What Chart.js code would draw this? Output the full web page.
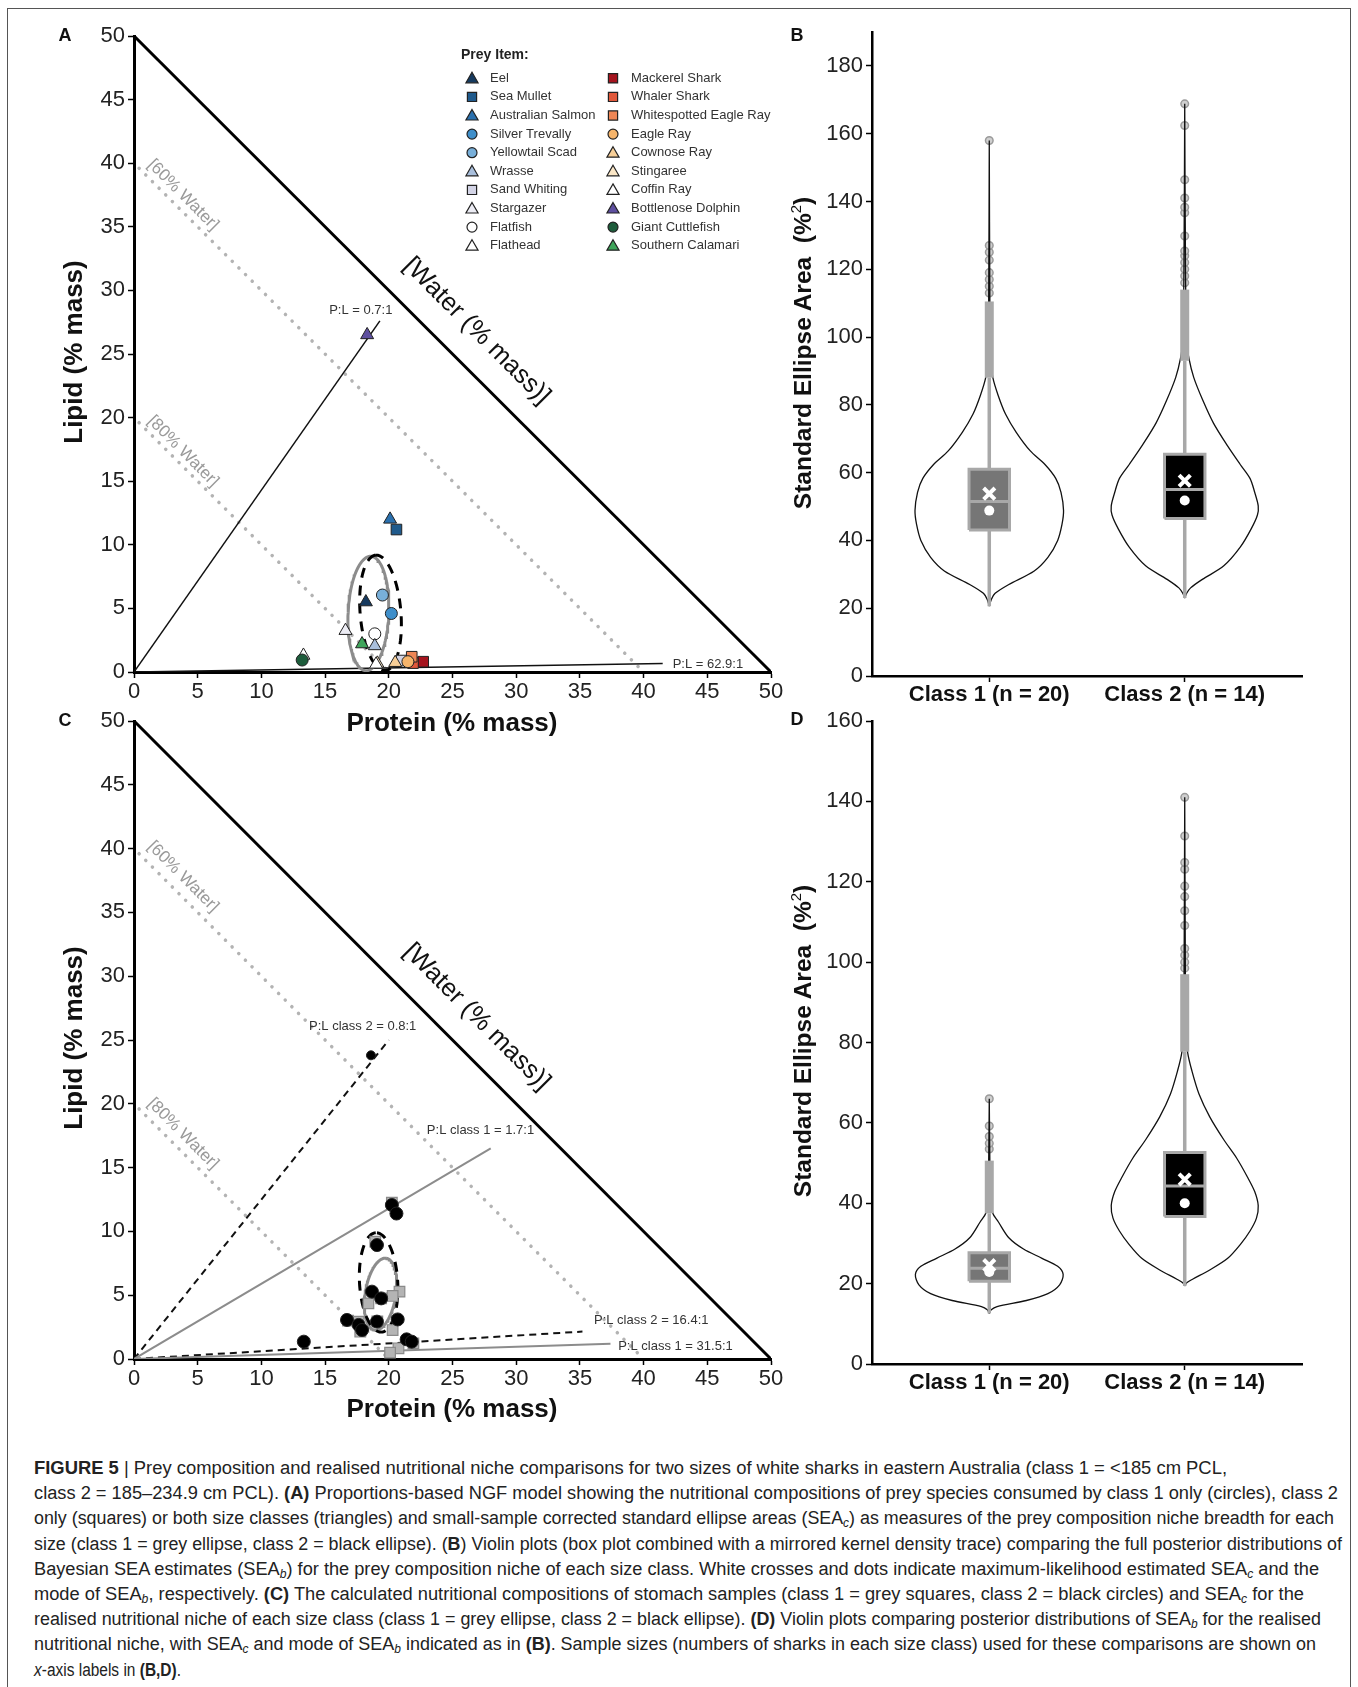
<!DOCTYPE html>
<html>
<head>
<meta charset="utf-8">
<title>Figure 5</title>
<script src="https://cdn.jsdelivr.net/npm/chart.js@4.4.1/dist/chart.umd.min.js"></script>
<style>
  body { margin: 0; background: #fff; }
  #page { position: relative; width: 1358px; height: 1687px; overflow: hidden; background: #fff;
          font-family: "Liberation Sans", Arial, Helvetica, sans-serif; color: #111; }
  #frame { position: absolute; left: 7px; top: 8px; width: 1344px; height: 1700px; border: 1px solid #555; box-sizing: border-box; }
  canvas { position: absolute; }
  .letter { position: absolute; font-weight: bold; font-size: 18px; transform: translate(-50%, -50%); }
  .ytitle { position: absolute; font-weight: bold; font-size: 26px; white-space: nowrap; transform: translate(-50%, -50%) rotate(-90deg); }
  .ytitle.sea { font-size: 24.5px; }
  .ytitle sup { font-size: 15px; font-weight: normal; vertical-align: 10px; }
  .xtitle { position: absolute; font-weight: bold; font-size: 26px; white-space: nowrap; transform: translate(-50%, -50%); }
  #caption { position: absolute; left: 34px; top: 1456px; font-size: 18px; line-height: 25.2px; color: #222; }
  #caption .ln { white-space: nowrap; width: max-content; transform-origin: left center; }
  #caption sub { font-size: 12px; font-style: italic; vertical-align: -3px; line-height: 0; }
</style>
</head>
<body>
<div id="page">
  <div id="frame"></div>
  <canvas id="chartA" style="left:0;top:0" width="800" height="745"></canvas>
  <canvas id="chartC" style="left:0;top:680px" width="800" height="745"></canvas>
  <canvas id="chartB" style="left:800px;top:0" width="550" height="720"></canvas>
  <canvas id="chartD" style="left:800px;top:690px" width="550" height="740"></canvas>

  <div class="letter" style="left:65px;top:35px">A</div>
  <div class="letter" style="left:797px;top:35px">B</div>
  <div class="letter" style="left:65px;top:720px">C</div>
  <div class="letter" style="left:797px;top:719px">D</div>

  <div class="ytitle" style="left:73px;top:352px">Lipid (% mass)</div>
  <div class="xtitle" style="left:452px;top:722px">Protein (% mass)</div>
  <div class="ytitle" style="left:73px;top:1038px">Lipid (% mass)</div>
  <div class="xtitle" style="left:452px;top:1408px">Protein (% mass)</div>
  <div class="ytitle sea" style="left:802px;top:353px">Standard Ellipse Area&nbsp; (%<sup>2</sup>)</div>
  <div class="ytitle sea" style="left:802px;top:1041px">Standard Ellipse Area&nbsp; (%<sup>2</sup>)</div>

  <div id="caption">
    <div class="ln" data-w="1193"><b>FIGURE 5</b> | Prey composition and realised nutritional niche comparisons for two sizes of white sharks in eastern Australia (class 1 = &lt;185 cm PCL,</div>
    <div class="ln" data-w="1304">class 2 = 185–234.9 cm PCL). <b>(A)</b> Proportions-based NGF model showing the nutritional compositions of prey species consumed by class 1 only (circles), class 2</div>
    <div class="ln" data-w="1300">only (squares) or both size classes (triangles) and small-sample corrected standard ellipse areas (SEA<sub>c</sub>) as measures of the prey composition niche breadth for each</div>
    <div class="ln" data-w="1308">size (class 1 = grey ellipse, class 2 = black ellipse). (<b>B</b>) Violin plots (box plot combined with a mirrored kernel density trace) comparing the full posterior distributions of</div>
    <div class="ln" data-w="1285">Bayesian SEA estimates (SEA<sub>b</sub>) for the prey composition niche of each size class. White crosses and dots indicate maximum-likelihood estimated SEA<sub>c</sub> and the</div>
    <div class="ln" data-w="1270">mode of SEA<sub>b</sub>, respectively. <b>(C)</b> The calculated nutritional compositions of stomach samples (class 1 = grey squares, class 2 = black circles) and SEA<sub>c</sub> for the</div>
    <div class="ln" data-w="1287">realised nutritional niche of each size class (class 1 = grey ellipse, class 2 = black ellipse). <b>(D)</b> Violin plots comparing posterior distributions of SEA<sub>b</sub> for the realised</div>
    <div class="ln" data-w="1282">nutritional niche, with SEA<sub>c</sub> and mode of SEA<sub>b</sub> indicated as in <b>(B)</b>. Sample sizes (numbers of sharks in each size class) used for these comparisons are shown on</div>
    <div class="ln" data-w="147"><i>x</i>-axis labels in <b>(B,D)</b>.</div>
  </div>
</div>

<script>
const FONT = '"Liberation Sans", Arial, Helvetica, sans-serif';

// ---------- panel A: prey items ----------
const preyNames = ["Eel", "Sea Mullet", "Australian Salmon", "Silver Trevally", "Yellowtail Scad",
  "Wrasse", "Sand Whiting", "Stargazer", "Flatfish", "Flathead",
  "Mackerel Shark", "Whaler Shark", "Whitespotted Eagle Ray", "Eagle Ray", "Cownose Ray",
  "Stingaree", "Coffin Ray", "Bottlenose Dolphin", "Giant Cuttlefish", "Southern Calamari"];
const preyShapes = ["triangle", "rect", "triangle", "circle", "circle",
  "triangle", "rect", "triangle", "circle", "triangle",
  "rect", "rect", "rect", "circle", "triangle",
  "triangle", "triangle", "triangle", "circle", "triangle"];
const preyColors = ["#163a5f", "#1f5a8c", "#2a70ae", "#3f8fca", "#78afd9",
  "#a9bfdc", "#d3d4e6", "#ececf4", "#ffffff", "#ffffff",
  "#a5141e", "#e0583a", "#ee8655", "#f5b46b", "#f7cf98",
  "#fbe7c7", "#ffffff", "#5e4f9f", "#1d5c3b", "#3fa55b"];
const preyProtein = [18.2, 20.6, 20.1, 20.2, 19.5, 18.9, 21.0, 16.6, 18.9, 13.3,
  22.7, 21.9, 21.8, 21.5, 20.5, 19.1, 19.0, 18.3, 13.2, 17.9];
const preyLipid = [5.5, 11.2, 12.0, 4.6, 6.05, 2.05, 0.9, 3.25, 3.0, 1.3,
  0.81, 0.7, 1.2, 0.81, 0.73, 0.68, 0.6, 26.5, 0.94, 2.2];

// draw order of the prey points (later = on top)
const preyDrawOrder = [9, 18, 7, 8, 19, 5, 0, 4, 3, 2, 1, 17, 6, 15, 16, 14, 10, 11, 12, 13];

// ellipses: [centre protein, centre lipid, semi-major, semi-minor, angle deg]
const sea1A = [18.4, 4.6, 4.5, 1.6, 87.5];
const sea2A = [19.35, 4.65, 4.55, 1.6, 94.7];
const ratioA = [[0, 0], [19.3, 27.6]];      // P:L = 0.7:1
const ratioALow = [[0, 0], [41.5, 0.66]];   // P:L = 62.9:1

// ---------- panel C: stomach samples ----------
const c1Protein = [20.24, 18.94, 20.84, 20.3, 18.4, 17.63, 17.76, 20.3, 21.93, 20.76, 20.1, 19.4, 19.1, 16.8];
const c1Lipid = [12.25, 9.2, 5.28, 4.94, 4.36, 2.93, 2.14, 2.27, 1.23, 0.84, 0.5, 4.75, 2.95, 3.0];
const c2Protein = [20.24, 20.6, 19.07, 18.68, 19.4, 16.72, 19.07, 20.7, 17.63, 17.9, 13.33, 21.4, 21.8, 18.6];
const c2Lipid = [12.07, 11.4, 8.93, 5.28, 4.75, 3.06, 2.93, 3.1, 2.67, 2.27, 1.36, 1.54, 1.36, 23.8];

const sea1C = [19.35, 5.08, 2.85, 1.2, 80.9];
const sea2C = [19.2, 6.0, 3.9, 1.5, 93.3];
const ratioC2 = [[0, 0], [20.0, 25.0]];     // class 2 = 0.8:1
const ratioC1 = [[0, 0], [28.0, 16.5]];     // class 1 = 1.7:1
const ratioC2Low = [[0, 0], [35.2, 2.15]];  // class 2 = 16.4:1
const ratioC1Low = [[0, 0], [37.4, 1.19]];  // class 1 = 31.5:1

// shared composition guides
const massLimit = [[0, 50], [50, 0]];
const water60 = [[0.4, 39.6], [40, 0]];
const water80 = [[0.4, 19.6], [20, 0]];

// ---------- panels B and D: violins ----------
const classLabels = ["Class 1 (n = 20)", "Class 2 (n = 14)"];
const boxColors = ["#767676", "#000000"];

const bY1 = [20.6, 22.5, 24.4, 27, 31, 35, 40, 44.7, 48.8, 54.2, 58.3, 62.4, 66.4, 71.9, 77.3, 82.7, 88.1, 93.6, 110, 158];
const bW1 = [0, 0.01, 0.03, 0.10, 0.23, 0.30, 0.35, 0.372, 0.38, 0.367, 0.34, 0.285, 0.21, 0.138, 0.083, 0.046, 0.018, 0.007, 0.003, 0];
const bY2 = [23, 24.4, 26, 28.5, 32.5, 38, 43.4, 47.5, 50.2, 54.2, 58.3, 62.4, 67.8, 74.6, 81.4, 88.1, 93.6, 99, 120, 168.8];
const bW2 = [0, 0.01, 0.03, 0.09, 0.20, 0.284, 0.34, 0.372, 0.376, 0.358, 0.334, 0.284, 0.22, 0.147, 0.092, 0.046, 0.022, 0.01, 0.004, 0];
const bBox = [[43.1, 51.5, 61.0], [46.5, 55.0, 65.4]];
const bWhisker = [[20.6, 88], [23, 93]];
const bDense = [[88, 110.5], [93, 114]];
const bOut1 = [113, 115, 117, 119, 122.7, 125, 127, 158];
const bOut2 = [116, 118, 120, 122, 124, 125.4, 129.8, 136.7, 138.3, 141, 146.4, 162.4, 168.8];
const bSeaC = [53.8, 57.6];
const bMode = [48.8, 51.8];

const dY1 = [12.6, 13.5, 14.3, 15.8, 17.5, 19.7, 22.3, 24.3, 26.3, 28.6, 31.4, 35.4, 37.5, 42, 50, 66];
const dW1 = [0, 0.01, 0.04, 0.19, 0.30, 0.36, 0.378, 0.35, 0.27, 0.175, 0.10, 0.046, 0.018, 0.006, 0.003, 0];
const dY2 = [19.4, 20.2, 21.1, 23.4, 26.3, 29.7, 33.1, 36.3, 39.4, 42.9, 46.6, 51.2, 55.8, 61.5, 67.2, 72.9, 77.5, 83.2, 100, 141];
const dW2 = [0, 0.01, 0.04, 0.128, 0.22, 0.284, 0.334, 0.367, 0.376, 0.358, 0.32, 0.266, 0.2, 0.128, 0.073, 0.037, 0.015, 0.006, 0.003, 0];
const dBox = [[20.6, 23.8, 27.7], [36.7, 44.3, 52.6]];
const dWhisker = [[12.6, 37.5], [19.4, 77.7]];
const dDense = [[37.5, 50.6], [77.7, 97]];
const dOut1 = [53.5, 54.9, 56.6, 59.2, 66];
const dOut2 = [98.5, 100, 101.7, 103.4, 109.1, 112.8, 116.3, 118.9, 123.1, 124.8, 131.4, 141];
const dSeaC = [24.6, 45.9];
const dMode = [22.9, 40.0];

// ---------- helpers ----------
const pts = (xs, ys) => xs.map((x, i) => ({ x, y: ys[i] }));
const seg = p => p.map(([x, y]) => ({ x, y }));

function ellipse(p, n = 120) {
  const [cx, cy, a, b, deg] = p;
  const t = deg * Math.PI / 180, out = [];
  for (let i = 0; i <= n; i++) {
    const u = 2 * Math.PI * i / n;
    const ex = a * Math.cos(u), ey = b * Math.sin(u);
    out.push({ x: cx + ex * Math.cos(t) - ey * Math.sin(t), y: cy + ex * Math.sin(t) + ey * Math.cos(t) });
  }
  return out;
}

function line(data, color, width, order, extra) {
  return Object.assign({
    data, showLine: true, borderColor: color, borderWidth: width, pointRadius: 0,
    fill: false, tension: 0, order
  }, extra || {});
}

// text labels placed in data units
const textPlugin = {
  id: "texts",
  afterDatasetsDraw(chart, args, opts) {
    const { ctx, scales: { x, y } } = chart;
    (opts.items || []).forEach(t => {
      ctx.save();
      ctx.translate(x.getPixelForValue(t.x), y.getPixelForValue(t.y));
      ctx.rotate((t.rot || 0) * Math.PI / 180);
      ctx.font = `${t.size}px ${FONT}`;
      ctx.fillStyle = t.color;
      ctx.textAlign = "center";
      ctx.textBaseline = "middle";
      ctx.fillText(t.text, 0, 0);
      ctx.restore();
    });
  }
};

function marker(ctx, shape, x, y, r) {
  ctx.beginPath();
  if (shape === "circle") {
    ctx.arc(x, y, r, 0, Math.PI * 2);
  } else if (shape === "rect") {
    const s = r * Math.SQRT1_2;
    ctx.rect(x - s, y - s, 2 * s, 2 * s);
  } else {
    ctx.moveTo(x, y - r);
    ctx.lineTo(x + r * 0.866, y + r * 0.5);
    ctx.lineTo(x - r * 0.866, y + r * 0.5);
    ctx.closePath();
  }
  ctx.fill();
  ctx.stroke();
}

// two column prey legend for panel A
const legendPlugin = {
  id: "preyLegend",
  afterDraw(chart) {
    const ctx = chart.ctx;
    ctx.save();
    ctx.fillStyle = "#222";
    ctx.font = `bold 14px ${FONT}`;
    ctx.textBaseline = "middle";
    ctx.fillText("Prey Item:", 461, 55);
    preyNames.forEach((name, i) => {
      const col = i < 10 ? 0 : 1;
      const row = i % 10;
      const mx = col ? 613 : 472;
      const my = 78.3 + row * 18.6;
      ctx.fillStyle = preyColors[i];
      ctx.strokeStyle = "#222";
      ctx.lineWidth = 1.2;
      const r = preyShapes[i] === "circle" ? 5 : preyShapes[i] === "rect" ? 6.5 : 7;
      marker(ctx, preyShapes[i], mx, my + (preyShapes[i] === "triangle" ? 1 : 0), r);
      ctx.fillStyle = "#333";
      ctx.font = `13px ${FONT}`;
      ctx.fillText(name, mx + 18, my);
    });
    ctx.restore();
  }
};

function triScales(xHeight) {
  const tickFont = { family: FONT, size: 22 };
  const axis = {
    type: "linear", min: 0, max: 50,
    grid: { drawOnChartArea: false, tickLength: 6, tickColor: "#000", tickWidth: 1.5 },
    border: { color: "#000", width: 3 }
  };
  return {
    x: Object.assign({}, axis, {
      afterFit: s => { s.height = xHeight; },
      ticks: { font: tickFont, color: "#222", stepSize: 5, padding: 1, maxRotation: 0, autoSkip: false }
    }),
    y: Object.assign({}, axis, {
      afterFit: s => { s.width = 134; },
      ticks: { font: tickFont, color: "#222", stepSize: 5, padding: 3, autoSkip: false }
    })
  };
}

function guideSets() {
  return [
    line(seg(massLimit), "#000", 3, 20),
    line(seg(water60), "#b3b3b3", 3.5, 19, { borderDash: [0.1, 9.3], borderCapStyle: "round" }),
    line(seg(water80), "#b3b3b3", 3.5, 19, { borderDash: [0.1, 9.3], borderCapStyle: "round" })
  ];
}

function guideTexts(off) {
  return [
    { text: "[60% Water]", x: 3.85, y: 37.5 + off, rot: 45, size: 17, color: "#9a9a9a" },
    { text: "[80% Water]", x: 3.85, y: 17.35 + off, rot: 45, size: 17, color: "#9a9a9a" },
    { text: "[Water (% mass)]", x: 26.9, y: 26.8, rot: 45, size: 25.5, color: "#111" }
  ];
}

const common = {
  responsive: false, animation: false, events: [],
  plugins: { legend: { display: false }, tooltip: { enabled: false } }
};

// ---------- panel A ----------
const orderedPrey = preyDrawOrder.map(i => ({ x: preyProtein[i], y: preyLipid[i] }));
new Chart(document.getElementById("chartA"), {
  type: "scatter",
  data: {
    datasets: [
      ...guideSets(),
      line(seg(ratioA), "#111", 1.5, 15),
      line(seg(ratioALow), "#111", 1.5, 15),
      line(ellipse(sea1A), "#8c8c8c", 3, 10),
      line(ellipse(sea2A), "#000", 3, 9, { borderDash: [10, 8] }),
      {
        data: orderedPrey, order: 1,
        pointStyle: preyDrawOrder.map(i => preyShapes[i]),
        pointBackgroundColor: preyDrawOrder.map(i => preyColors[i]),
        pointBorderColor: "#222", pointBorderWidth: 1,
        pointRadius: preyDrawOrder.map(i => preyShapes[i] === "circle" ? 6 : 7.5)
      }
    ]
  },
  options: Object.assign({}, common, {
    layout: { padding: { top: 36, right: 29, left: 0, bottom: 0 } },
    scales: triScales(73),
    plugins: Object.assign({}, common.plugins, {
      texts: {
        items: guideTexts(0).concat([
          { text: "P:L = 0.7:1", x: 17.8, y: 28.4, size: 13, color: "#333" },
          { text: "P:L = 62.9:1", x: 45.05, y: 0.63, size: 13, color: "#333" }
        ])
      }
    })
  }),
  plugins: [textPlugin, legendPlugin]
});

// ---------- panel C ----------
new Chart(document.getElementById("chartC"), {
  type: "scatter",
  data: {
    datasets: [
      ...guideSets(),
      line(seg(ratioC2), "#111", 2, 15, { borderDash: [7, 5] }),
      line(seg(ratioC2Low), "#111", 2, 15, { borderDash: [7, 5] }),
      line(seg(ratioC1), "#8c8c8c", 2, 14),
      line(seg(ratioC1Low), "#8c8c8c", 2, 14),
      line(ellipse(sea1C), "#8c8c8c", 3, 10),
      line(ellipse(sea2C), "#000", 3, 9, { borderDash: [10, 8] }),
      {
        data: pts(c1Protein, c1Lipid), order: 2, pointStyle: "rect",
        pointBackgroundColor: "#b4b4b4", pointBorderColor: "#8a8a8a", pointBorderWidth: 1.2, pointRadius: 7.5
      },
      {
        data: pts(c2Protein, c2Lipid), order: 1, pointStyle: "circle",
        pointBackgroundColor: "#000", pointBorderColor: "#222", pointBorderWidth: 1,
        pointRadius: c2Lipid.map(v => v > 20 ? 4.5 : 6.5)
      }
    ]
  },
  options: Object.assign({}, common, {
    layout: { padding: { top: 41, right: 29, left: 0, bottom: 0 } },
    scales: triScales(66),
    plugins: Object.assign({}, common.plugins, {
      texts: {
        items: guideTexts(0.3).concat([
          { text: "P:L class 2 = 0.8:1", x: 17.95, y: 26.1, size: 13, color: "#333" },
          { text: "P:L class 1 = 1.7:1", x: 27.2, y: 17.9, size: 13, color: "#333" },
          { text: "P:L class 2 = 16.4:1", x: 40.6, y: 3.0, size: 13, color: "#333" },
          { text: "P:L class 1 = 31.5:1", x: 42.5, y: 0.96, size: 13, color: "#333" }
        ])
      }
    })
  }),
  plugins: [textPlugin]
});

// ---------- panels B and D ----------
const BOX_HW = 0.1035;

function outline(pos, ys, ws) {
  const right = ys.map((y, i) => ({ x: pos + ws[i], y }));
  const left = ys.map((y, i) => ({ x: pos - ws[i], y })).reverse();
  return right.concat(left);
}

function violinChart(id, v) {
  const sets = [];
  [0, 1].forEach(k => {
    const pos = k + 1;
    const [q1, med, q3] = v.box[k];
    sets.push({
      data: v.out[k].map(y => ({ x: pos, y })), order: 8, pointStyle: "circle",
      pointRadius: 3.8, pointBackgroundColor: "#cfcfcf", pointBorderColor: "#9a9a9a", pointBorderWidth: 1.5
    });
    sets.push(line(outline(pos, v.ys[k], v.ws[k]), "#111", 1.3, 7, { tension: 0.3 }));
    sets.push(line([{ x: pos, y: v.whisker[k][0] }, { x: pos, y: v.whisker[k][1] }], "#a8a8a8", 3.5, 6));
    sets.push(line([{ x: pos, y: v.dense[k][0] }, { x: pos, y: v.dense[k][1] }], "#a8a8a8", 9, 5));
    sets.push(line([{ x: pos, y: q1 }, { x: pos, y: q3 }], boxColors[k], 40, 4, { borderCapStyle: "butt" }));
    sets.push(line([
      { x: pos - BOX_HW, y: q1 }, { x: pos + BOX_HW, y: q1 }, { x: pos + BOX_HW, y: q3 },
      { x: pos - BOX_HW, y: q3 }, { x: pos - BOX_HW, y: q1 }
    ], "#a8a8a8", 3, 3, { borderJoinStyle: "miter" }));
    sets.push(line([{ x: pos - BOX_HW, y: med }, { x: pos + BOX_HW, y: med }], "#a8a8a8", 3, 3));
  });
  sets.push({
    data: v.mode.map((y, k) => ({ x: k + 1, y })), order: 1, pointStyle: "circle",
    pointRadius: 5, pointBackgroundColor: "#fff", pointBorderWidth: 0
  });
  sets.push({
    data: v.seaC.map((y, k) => ({ x: k + 1, y })), order: 1, pointStyle: "crossRot",
    pointRadius: 8, pointBorderColor: "#fff", pointBorderWidth: 4
  });

  new Chart(document.getElementById(id), {
    type: "scatter",
    data: { datasets: sets },
    options: Object.assign({}, common, {
      layout: { padding: { top: v.top, right: 48, left: 0, bottom: 0 } },
      scales: {
        x: {
          type: "linear", min: 0.4, max: 2.6, offset: false,
          afterFit: s => { s.height = v.xHeight; },
          afterBuildTicks: s => { s.ticks = [{ value: 1 }, { value: 2 }]; },
          ticks: {
            font: { family: FONT, size: 22, weight: "bold" }, color: "#111", padding: 0,
            maxRotation: 0, autoSkip: false, callback: (val, i) => classLabels[i]
          },
          grid: { drawOnChartArea: false, tickLength: 6, tickColor: "#000", tickWidth: 1.5 },
          border: { color: "#000", width: 2.5 }
        },
        y: {
          type: "linear", min: 0, max: v.yMax,
          afterFit: s => { s.width = 72; },
          afterBuildTicks: s => { s.ticks = s.ticks.filter(t => t.value % 20 === 0); },
          ticks: { font: { family: FONT, size: 22 }, color: "#222", stepSize: 20, padding: 3 },
          grid: { drawOnChartArea: false, tickLength: 6, tickColor: "#000", tickWidth: 1.5 },
          border: { color: "#000", width: 2.5 }
        }
      }
    })
  });
}

violinChart("chartB", {
  ys: [bY1, bY2], ws: [bW1, bW2], box: bBox, whisker: bWhisker, dense: bDense,
  out: [bOut1, bOut2], seaC: bSeaC, mode: bMode, yMax: 190, top: 32, xHeight: 44
});
violinChart("chartD", {
  ys: [dY1, dY2], ws: [dW1, dW2], box: dBox, whisker: dWhisker, dense: dDense,
  out: [dOut1, dOut2], seaC: dSeaC, mode: dMode, yMax: 160, top: 31, xHeight: 66
});

// fit every caption line to the width it has in the printed figure
document.querySelectorAll("#caption .ln").forEach(el => {
  const natural = el.getBoundingClientRect().width;
  el.style.transform = `scaleX(${Number(el.dataset.w) / natural})`;
});
</script>
</body>
</html>
